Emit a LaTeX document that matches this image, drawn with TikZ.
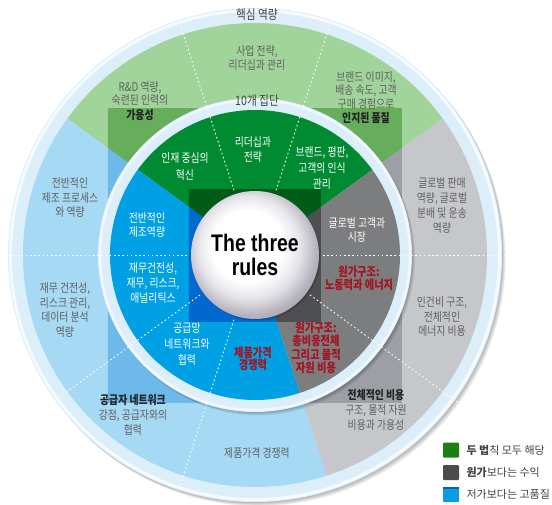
\documentclass[tikz,border=0pt]{standalone}
\usepackage{fontspec}
\setmainfont{Noto Sans CJK KR}[FakeStretch=0.82]
\newfontfamily\keyfont{Noto Sans CJK KR}
\newfontfamily\titlefont{Liberation Sans}

% ring and sector palette
\definecolor{ringblue}{HTML}{DCEEFA}
\definecolor{outgreen}{HTML}{A0D49A}
\definecolor{outgreendk}{HTML}{67AE5C}
\definecolor{outblue}{HTML}{A6D9F4}
\definecolor{outbluedk}{HTML}{6DB9EA}
\definecolor{outgray}{HTML}{C5C7CA}
\definecolor{outgraydk}{HTML}{9C9FA4}
\definecolor{ingreen}{HTML}{008A32}
\definecolor{ingreendk}{HTML}{005C17}
\definecolor{inblue}{HTML}{00A0E4}
\definecolor{inbluedk}{HTML}{0068CE}
\definecolor{ingray}{HTML}{7C7D7F}
\definecolor{ingraydk}{HTML}{4E4F51}
\definecolor{costred}{HTML}{A8101E}
\definecolor{lblgray}{HTML}{606060}
\definecolor{lbldark}{HTML}{222222}
\definecolor{sphgray}{HTML}{A9A4B2}
\definecolor{keygreen}{HTML}{1B7F12}
\definecolor{keygray}{HTML}{4A4C4E}
\definecolor{keyblue}{HTML}{0A9EE0}
\definecolor{keybluetop}{HTML}{0060C0}

% soft white ball in the middle
\pgfdeclareradialshading{spherefill}{\pgfpoint{-4bp}{5bp}}{%
  color(0bp)=(white); color(14bp)=(white); color(20bp)=(sphgray!30);
  color(26bp)=(sphgray!85); color(29bp)=(sphgray); color(50bp)=(sphgray)}

% wedge: colour, start angle, end angle, radius
\newcommand\wedgefill[4]{\fill[#1] (0,0) -- (#2:#4) arc[start angle=#2, end angle=#3, radius=#4] -- cycle;}

\tikzset{
  outlbl/.style={text=lblgray, align=center, font=\fontsize{12}{14}\selectfont},
  inlbl/.style={text=white, align=center, font=\fontsize{12}{14.5}\selectfont},
  redlbl/.style={text=costred, align=center, font=\bfseries\fontsize{12.5}{13.5}\selectfont},
  ringlbl/.style={text=lbldark!85, font=\fontsize{13}{13}\selectfont},
  divline/.style={white, line width=0.9pt, dash pattern=on 1.6pt off 2.6pt},
  keybox/.style={minimum width=16pt, minimum height=15pt, inner sep=0pt, rounded corners=1pt},
  keylbl/.style={anchor=west, text=lbldark!85, font=\keyfont\fontsize{11}{11}\selectfont},
}

\begin{document}
\begin{tikzpicture}[x=1pt,y=1pt]
  % page frame, origin at the centre of the rings
  \useasboundingbox[fill=white] (-255,-249) rectangle (297,255);

  % shadow and outer pale ring
  \foreach \s in {1,...,6} {\fill[black,opacity=0.05] (0.6*\s,-0.7*\s) circle (247);}
  \fill[ringblue] (0,0) circle (247);
  \draw[white!70!ringblue, line width=3pt] (0,0) circle (244.5);

  % outer band of sectors
  \wedgefill{outgreen}{36}{144}{232}
  \wedgefill{outblue}{144}{288}{232}
  \wedgefill{outgray}{-72}{36}{232}
  \begin{scope}
    \clip (-147,-147) rectangle (147,147);
    \wedgefill{outgreendk}{36}{144}{232}
    \wedgefill{outbluedk}{144}{288}{232}
    \wedgefill{outgraydk}{-72}{36}{232}
  \end{scope}

  % inner pale ring with its shadow
  \foreach \s in {1,...,5} {\fill[black,opacity=0.05] (0.6*\s,-0.7*\s) circle (157);}
  \fill[ringblue] (0,0) circle (157);
  \draw[white!60!ringblue, line width=2.5pt] (0,0) circle (155);

  % inner disc of sectors
  \wedgefill{ingreen}{36}{144}{145}
  \wedgefill{inblue}{144}{288}{145}
  \wedgefill{ingray}{-72}{36}{145}
  \begin{scope}
    \clip (-66,-66) rectangle (66,66);
    \wedgefill{ingreendk}{36}{144}{145}
    \wedgefill{inbluedk}{144}{288}{145}
    \wedgefill{ingraydk}{-72}{36}{145}
  \end{scope}

  % dividers between the ten groups
  \foreach \a in {0,72,108,180,216,252,324} {\draw[divline] (\a:68) -- (\a:250);}

  % centre ball
  \foreach \s in {1,...,3} {\fill[black,opacity=0.08] (0.6*\s,-0.7*\s) circle (64);}
  \shade[shading=spherefill] (0,0) circle (64);
  \node (title) at (0,-3) {\scalebox{0.81}[1]{\titlefont\bfseries\fontsize{24}{25}\selectfont
    \begin{tabular}{@{}c@{}}The three\\[-1pt] rules\end{tabular}}};

  % ring captions
  \node[ringlbl] (core) at (2,240) {핵심 역량};
  \node[ringlbl] (groups) at (2,154) {10개 집단};

  % outer band labels
  \node[outlbl] (o1) at (2,196.5) {사업 전략,\\리더십과 관리};
  \node[outlbl, font=\fontsize{12}{13.5}\selectfont] (o2) at (-115,154) {R\&D 역량,\\숙련된 인력의\\[1pt]{\bfseries\color{lbldark}가용성}};
  \node[outlbl, font=\fontsize{12}{12}\selectfont] (o3) at (111,157.5) {브랜드 이미지,\\배송 속도, 고객\\구매 경험으로\\[2pt]{\bfseries\color{lbldark}인지된 품질}};
  \node[outlbl, font=\fontsize{12}{14.5}\selectfont] (o4) at (-185,57) {전반적인\\제조 프로세스\\와 역량};
  \node[outlbl, font=\fontsize{12}{14.5}\selectfont] (o5) at (-190,-55) {재무 건전성,\\리스크 관리,\\데이터 분석\\역량};
  \node[outlbl, font=\fontsize{12}{15}\selectfont] (o6) at (-122,-160) {{\bfseries\color{lbldark}공급자 네트워크}\\강점, 공급자와의\\협력};
  \node[outlbl] (o7) at (2,-198) {제품가격 경쟁력};
  \node[outlbl, font=\fontsize{12}{15}\selectfont] (o8) at (187,49.5) {글로벌 판매\\역량, 글로벌\\분배 및 운송\\역량};
  \node[outlbl, font=\fontsize{12}{14.5}\selectfont] (o9) at (187,-62) {인건비 구조,\\전체적인\\에너지 비용};
  \node[outlbl, font=\fontsize{12}{15}\selectfont] (o10) at (121,-155) {{\bfseries\color{lbldark}전체적인 비용}\\구조, 물적 자원\\비용과 가용성};

  % inner disc labels
  \node[inlbl, font=\fontsize{12}{17}\selectfont] (i1) at (-70,88.5) {인재 중심의\\혁신};
  \node[inlbl] (i2) at (-2,105.5) {리더십과\\전략};
  \node[inlbl, font=\fontsize{12}{16}\selectfont] (i3) at (67,87) {브랜드, 평판,\\고객의 인식\\관리};
  \node[inlbl] (i4) at (-108,30) {전반적인\\제조역량};
  \node[inlbl, font=\fontsize{12}{15}\selectfont] (i5) at (-102,-28) {재무건전성,\\재무, 리스크,\\애널리틱스};
  \node[inlbl, font=\fontsize{12}{16}\selectfont] (i6) at (-68,-89) {공급망\\네트워크와\\협력};
  \node[redlbl, font=\bfseries\fontsize{12.5}{12.5}\selectfont] (i7) at (-2,-104) {제품가격\\경쟁력};
  \node[inlbl] (i8) at (102,25) {글로벌 고객과\\시장};
  \node[redlbl] (i9) at (104,-23.5) {원가구조:\\노동력과 에너지};
  \node[redlbl] (i10) at (61,-93) {원가구조:\\총비용전체\\그리고 물적\\자원 비용};

  % legend
  \node[keybox, fill=keygreen] (kg) at (196,-195) {};
  \node[keybox, fill=keygray] (kd) at (196,-217.5) {};
  \node[keybox, fill=keyblue] (kb) at (196,-239.5) {};
  \fill[keybluetop] (kb.north west) rectangle ([yshift=-2.5pt]kb.north east);
  \node[keylbl] (tg) at (208,-195) {{\bfseries 두 법}칙 모두 해당};
  \node[keylbl] (td) at (208,-217.5) {{\bfseries 원가}보다는 수익};
  \node[keylbl] (tb) at (208,-239.5) {저가보다는 고품질};
\end{tikzpicture}
\end{document}
